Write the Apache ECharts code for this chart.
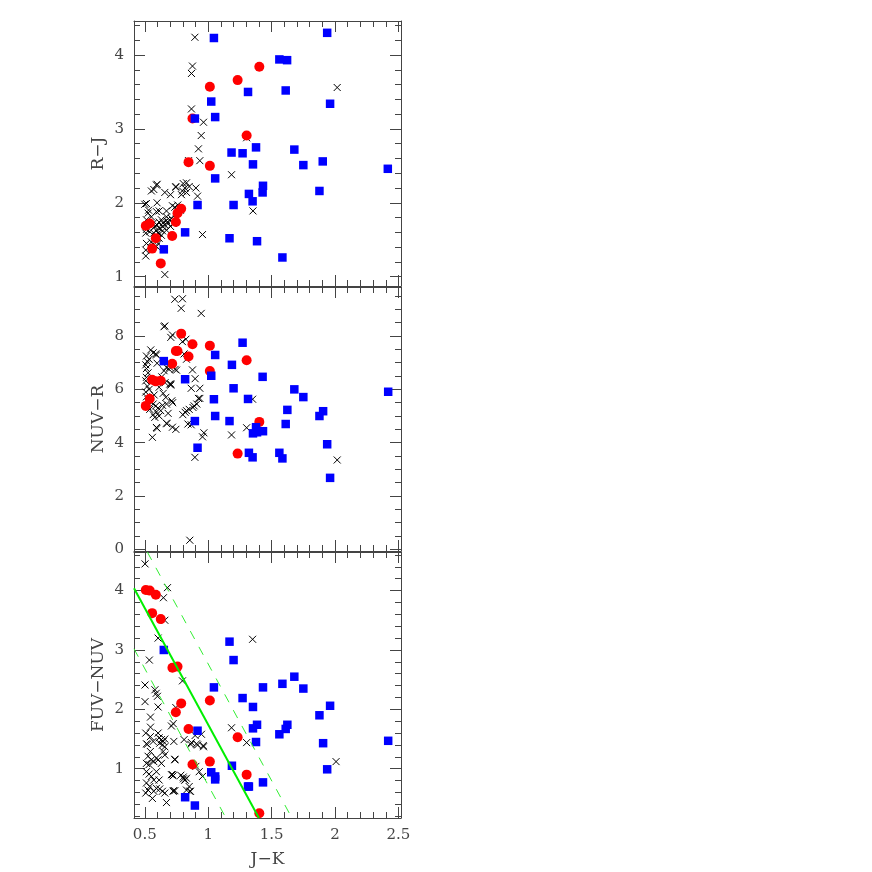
<!DOCTYPE html>
<html>
<head>
<meta charset="utf-8">
<script src="https://cdn.jsdelivr.net/npm/echarts@6/dist/echarts.min.js"></script>
<style>
  html, body { margin: 0; background: #fff; }
  #chart { width: 872px; height: 872px; }
</style>
</head>
<body>
<div id="chart"></div>
<script>
// ---- data (J-K, colour) ----
const rjBlue = [[1.045,4.23],[1.938,4.30],[1.561,3.94],[1.622,3.93],[1.314,3.50],[1.611,3.52],[1.024,3.37],[1.961,3.34],[0.895,3.14],[1.055,3.16],[1.377,2.75],[1.679,2.72],[1.184,2.68],[1.271,2.67],[1.353,2.52],[1.750,2.51],[1.903,2.56],[2.416,2.46],[1.055,2.33],[1.432,2.23],[1.429,2.14],[1.877,2.16],[1.321,2.12],[1.350,2.02],[0.916,1.97],[1.200,1.97],[0.818,1.60],[1.168,1.52],[1.385,1.48],[0.650,1.37],[1.585,1.26]];
const rjRed = [[1.403,3.84],[1.232,3.66],[1.013,3.57],[0.876,3.14],[1.303,2.91],[0.845,2.55],[1.013,2.50],[0.787,1.92],[0.758,1.86],[0.745,1.74],[0.508,1.69],[0.539,1.72],[0.587,1.52],[0.716,1.55],[0.558,1.38],[0.626,1.18]];
const rjCross = [[0.895,4.24],[0.876,3.85],[0.868,3.75],[2.017,3.56],[0.868,3.27],[0.963,3.09],[0.945,2.91],[0.923,2.73],[0.934,2.57],[1.303,2.88],[1.184,2.38],[1.353,1.89],[0.955,1.57],[0.658,1.03],[0.903,2.20],[0.916,2.09],[0.845,2.57],
  [0.597,2.25],[0.571,2.18],[0.552,2.16],[0.658,2.14],[0.703,2.11],[0.745,2.22],[0.803,2.26],[0.829,2.27],[0.816,2.20],[0.797,2.16],[0.829,2.14],[0.789,2.11],[0.850,2.22],[0.513,1.99],[0.500,1.98],[0.597,2.00],[0.526,1.86],[0.592,1.88],[0.613,1.89],[0.671,1.89],[0.718,1.96],[0.737,1.94],[0.513,1.77],[0.552,1.81],[0.565,1.72],[0.579,1.68],[0.597,1.70],[0.613,1.74],[0.631,1.77],[0.645,1.73],[0.658,1.70],[0.671,1.76],[0.684,1.72],[0.697,1.77],[0.710,1.79],[0.724,1.72],[0.592,1.63],[0.605,1.59],[0.618,1.65],[0.639,1.68],[0.571,1.59],[0.587,1.54],[0.613,1.52],[0.631,1.56],[0.513,1.64],[0.508,1.59],[0.539,1.61],[0.513,1.45],[0.508,1.36],[0.508,1.28],[0.552,1.47],[0.571,1.43],[0.592,1.41],[0.605,1.45],[0.671,1.63],[0.703,1.68],[0.671,1.81],[0.750,1.78],[0.760,1.97],[0.780,1.90],[0.530,1.90],[0.640,1.62],[0.592,2.24],[0.745,2.21]];

const nuvBlue = [[1.271,7.75],[1.055,7.29],[0.650,7.06],[1.187,6.92],[1.024,6.51],[1.429,6.47],[0.818,6.38],[1.200,6.04],[1.679,6.00],[2.419,5.91],[1.750,5.71],[1.045,5.63],[1.314,5.64],[1.624,5.23],[1.906,5.18],[1.877,5.00],[1.055,5.00],[0.895,4.81],[1.168,4.81],[1.611,4.70],[1.377,4.58],[1.432,4.43],[1.385,4.39],[1.353,4.35],[1.938,3.94],[0.916,3.81],[1.321,3.62],[1.561,3.62],[1.350,3.45],[1.585,3.41],[1.961,2.68]];
const nuvRed = [[0.787,8.09],[0.876,7.69],[1.013,7.64],[0.745,7.44],[0.758,7.44],[0.845,7.23],[1.303,7.09],[0.716,6.96],[1.013,6.69],[0.558,6.36],[0.587,6.30],[0.626,6.32],[0.539,5.65],[0.508,5.38],[1.403,4.78],[1.232,3.59]];
const nuvCross = [[0.737,9.38],[0.797,9.40],[0.787,9.04],[0.945,8.85],[0.652,8.35],[0.658,8.38],[0.705,7.95],[0.718,8.04],[0.829,7.13],[0.876,6.73],[0.897,6.40],[0.934,6.04],[0.866,6.04],[0.923,5.66],[1.350,5.63],[0.889,5.38],[0.850,5.25],[0.818,5.14],[0.966,4.37],[0.955,4.22],[1.184,4.29],[1.303,4.56],[0.840,4.70],[0.866,4.67],[0.895,3.45],[2.017,3.35],[0.855,0.34],[0.674,4.71],[0.592,4.57],[0.560,4.20],[0.705,6.20],
  [0.797,7.79],[0.824,7.88],[0.810,7.33],[0.739,6.75],[0.671,6.83],[0.652,6.70],[0.692,6.75],[0.634,6.47],[0.705,6.16],[0.587,7.33],[0.547,7.48],[0.513,7.25],[0.521,7.04],[0.534,7.13],[0.566,7.37],[0.592,7.29],[0.597,6.98],[0.697,6.83],[0.508,6.92],[0.513,6.78],[0.526,6.62],[0.508,6.32],[0.513,6.45],[0.521,6.12],[0.534,6.00],[0.508,5.90],[0.613,6.08],[0.574,5.79],[0.666,5.70],[0.697,6.20],[0.645,5.85],[0.513,5.72],[0.526,5.60],[0.521,5.35],[0.539,5.25],[0.566,5.45],[0.587,5.38],[0.605,5.30],[0.592,5.15],[0.566,5.05],[0.613,5.00],[0.579,4.95],[0.626,5.20],[0.640,5.40],[0.713,5.57],[0.720,5.50],[0.671,5.45],[0.684,5.10],[0.597,4.54],[0.671,4.73],[0.718,4.58],[0.745,4.50],[0.800,5.05],[0.829,5.20],[0.880,5.32],[0.910,5.45],[0.934,5.66],[0.660,6.25],[0.750,6.72]];

const fuvBlue = [[1.168,3.14],[1.200,2.83],[0.650,3.00],[1.679,2.55],[1.585,2.43],[1.750,2.35],[1.432,2.37],[1.045,2.37],[1.271,2.19],[1.353,2.04],[1.961,2.06],[1.877,1.90],[1.385,1.74],[1.353,1.68],[1.624,1.74],[1.611,1.67],[1.561,1.58],[0.916,1.64],[1.377,1.45],[1.906,1.43],[2.419,1.47],[1.187,1.05],[1.938,0.99],[1.024,0.94],[1.055,0.82],[1.055,0.87],[1.314,0.70],[1.321,0.70],[1.432,0.77],[0.818,0.52],[0.895,0.38]];
const fuvRed = [[0.508,4.01],[0.539,4.00],[0.587,3.93],[0.558,3.62],[0.626,3.52],[0.718,2.70],[0.758,2.72],[0.787,2.10],[0.745,1.95],[0.845,1.67],[1.013,2.15],[1.232,1.53],[1.013,1.12],[0.876,1.07],[1.303,0.90],[1.403,0.25]];
const fuvCross = [[0.502,4.45],[0.679,4.05],[0.647,3.88],[0.658,3.50],[0.605,3.20],[0.536,2.83],[1.350,3.18],[0.797,2.48],[0.502,2.41],[0.580,2.33],[0.590,2.27],[0.600,2.22],[0.502,2.13],[0.605,2.04],[0.745,2.03],[0.545,1.87],[0.545,1.70],[1.184,1.69],[1.303,1.44],[2.008,1.12],[0.710,1.72],[0.724,1.76],
  [0.810,1.49],[0.863,1.41],[0.916,1.40],[0.963,1.37],[0.897,1.56],[0.947,1.58],[0.737,1.16],[0.784,0.89],[0.805,0.83],[0.818,0.81],[0.850,0.70],[0.860,0.62],[0.903,1.04],[0.929,0.95],[0.955,0.87],[0.718,0.90],[0.726,0.63],[0.671,0.43],
  [0.513,1.42],[0.520,1.41],[0.613,1.52],[0.631,1.49],[0.645,1.46],[0.658,1.50],[0.618,1.43],[0.639,1.40],[0.658,1.37],[0.508,1.60],[0.544,1.29],[0.645,1.29],[0.526,1.21],[0.552,1.15],[0.571,1.12],[0.592,1.18],[0.605,1.15],[0.513,1.09],[0.534,1.07],[0.631,1.09],[0.658,1.23],[0.513,0.95],[0.534,0.91],[0.552,0.87],[0.571,0.81],[0.513,0.76],[0.539,0.70],[0.526,0.64],[0.571,0.62],[0.592,0.67],[0.618,0.66],[0.639,0.62],[0.658,0.59],[0.508,0.59],[0.560,0.50],[0.724,0.62],[0.737,0.63],[0.613,0.81],[0.592,0.95],[0.710,0.90],[0.724,0.88],[0.803,0.86],[0.816,0.81],[0.829,0.84],[0.829,0.64],[0.855,0.62],[0.737,1.15],[0.729,1.46],[0.868,1.44],[0.908,1.42],[0.961,1.39],[0.605,1.60],[0.544,1.54],[0.566,1.46]];

// reference lines in the FUV-NUV panel (end points)
const lineSolid = [[0.415,4.04],[1.400,0.17]];
const lineDashUp = [[0.520,4.65],[1.660,0.17]];
const lineDashLow = [[0.415,3.02],[1.140,0.17]];

// axes
const xRange = [0.415, 2.52];
const xMajor = [0.5, 1, 1.5, 2, 2.5];
const panels = [
  { name: 'R\u2212J', top: 21, height: 265, range: [0.874, 4.46], major: [1, 2, 3, 4], minorStep: 0.2 },
  { name: 'NUV\u2212R', top: 287, height: 264, range: [-0.064, 9.84], major: [0, 2, 4, 6, 8], minorStep: 0.5 },
  { name: 'FUV\u2212NUV', top: 552, height: 266, range: [0.17, 4.65], major: [1, 2, 3, 4], minorStep: 0.2 }
];

const font = 'DejaVu Serif';
const ink = '#444';

function stepsIn(range, step) {
  const out = [];
  for (let v = Math.ceil(range[0] / step) * step; v <= range[1] + 1e-9; v += step) {
    out.push(Math.round(v * 100) / 100);
  }
  return out;
}
const xMinor = stepsIn([0.5, 2.5], 0.1);

function axis(grid, pos, range, ticks, len, withLine, withLabels) {
  return {
    type: 'value', gridIndex: grid, position: pos,
    min: range[0], max: range[1],
    axisLine: { show: withLine, onZero: false, lineStyle: { color: ink, width: 1 } },
    axisTick: { show: true, inside: true, length: len, customValues: ticks, lineStyle: { color: ink, width: 1 } },
    axisLabel: {
      show: withLabels, customValues: ticks, margin: 10,
      fontFamily: font, fontSize: 15, color: ink,
      formatter: (v) => String(v)
    },
    splitLine: { show: false }
  };
}

const nameStyle = { fontFamily: font, fontSize: 17, color: ink };
const grids = [], xAxes = [], yAxes = [];
panels.forEach((p) => grids.push({ left: 134, width: 267, top: p.top, height: p.height }));
panels.forEach((p) => grids.push({ left: 134, width: 267, top: p.top, height: p.height }));

panels.forEach((p, g) => {
  const xb = axis(g, 'bottom', xRange, xMajor, 11, true, g === 2);
  if (g === 2) {
    Object.assign(xb, { name: 'J\u2212K', nameLocation: 'middle', nameGap: 33, nameTextStyle: nameStyle });
  }
  xAxes.push(xb, axis(g, 'top', xRange, xMajor, 11, true, false));
  const yl = axis(g, 'left', p.range, p.major, 11, true, true);
  Object.assign(yl, { name: p.name, nameLocation: 'middle', nameGap: 27, nameTextStyle: nameStyle });
  yAxes.push(yl, axis(g, 'right', p.range, p.major, 11, true, false));
});
panels.forEach((p, g) => {
  const minor = stepsIn(p.range, p.minorStep);
  xAxes.push(axis(g + 3, 'bottom', xRange, xMinor, 6, false, false),
             axis(g + 3, 'top', xRange, xMinor, 6, false, false));
  yAxes.push(axis(g + 3, 'left', p.range, minor, 6, false, false),
             axis(g + 3, 'right', p.range, minor, 6, false, false));
});

const crossPath = 'path://M0,0L10,10M10,0L0,10';
function points(data, g, kind) {
  const s = { type: 'scatter', xAxisIndex: 2 * g, yAxisIndex: 2 * g, data: data, silent: true };
  if (kind === 'cross') {
    Object.assign(s, { symbol: crossPath, symbolSize: 7,
      itemStyle: { color: 'rgba(0,0,0,0)', borderColor: '#000', borderWidth: 1, opacity: 1 } });
  } else if (kind === 'red') {
    Object.assign(s, { symbol: 'circle', symbolSize: 10, itemStyle: { color: '#ff0000', opacity: 1 } });
  } else {
    Object.assign(s, { symbol: 'rect', symbolSize: 8.5, itemStyle: { color: '#0000ff', opacity: 1 } });
  }
  return s;
}
function refLine(data, solid) {
  return {
    type: 'line', xAxisIndex: 4, yAxisIndex: 4, data: data, symbol: 'none', silent: true,
    lineStyle: solid ? { color: '#00ee00', width: 2 } : { color: '#33ee33', width: 1, type: [9, 9] }
  };
}

const series = [
  refLine(lineDashUp, false), refLine(lineDashLow, false), refLine(lineSolid, true),
  points(rjCross, 0, 'cross'), points(rjRed, 0, 'red'), points(rjBlue, 0, 'blue'),
  points(nuvCross, 1, 'cross'), points(nuvRed, 1, 'red'), points(nuvBlue, 1, 'blue'),
  points(fuvCross, 2, 'cross'), points(fuvRed, 2, 'red'), points(fuvBlue, 2, 'blue')
];

const chart = echarts.init(document.getElementById('chart'));
chart.setOption({
  animation: false,
  backgroundColor: '#fff',
  grid: grids,
  xAxis: xAxes,
  yAxis: yAxes,
  series: series
});
</script>
</body>
</html>
